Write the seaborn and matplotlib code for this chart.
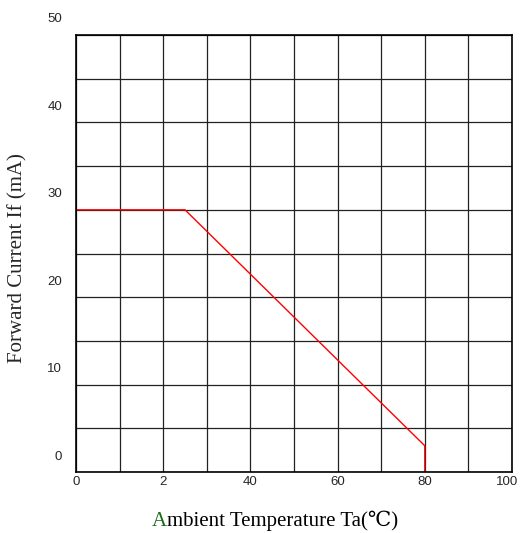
import matplotlib
matplotlib.use("Agg")
import matplotlib.pyplot as plt
import matplotlib.transforms as mtransforms
import seaborn as sns

# Derating curve
temperature = [0, 25, 80, 80]
forward_current = [30, 30, 3, 0]

x_ticks = [0, 20, 40, 60, 80, 100]
x_tick_labels = ['0', '2', '40', '60', '80', '100']
y_ticks = [0, 10, 20, 30, 40, 50]
y_tick_labels = ['0', '10', '20', '30', '40', '50']

sns.set_style("white")
plt.rcParams['font.family'] = ['Liberation Sans', 'DejaVu Sans']

fig = plt.figure(figsize=(5.21, 5.33), dpi=100)
ax = fig.add_axes([76 / 521, 61 / 533, 436 / 521, 437 / 533])

sns.lineplot(x=temperature, y=forward_current, sort=False, estimator=None,
             color='red', linewidth=1, ax=ax)

ax.set_xlim(0, 100)
ax.set_ylim(0, 50)

# grid: 10 x 10 cells
ax.set_xticks(range(0, 101, 10), minor=True)
ax.set_yticks(range(0, 51, 5), minor=True)
ax.grid(True, which='both', color='#222222', linewidth=0.9)
ax.set_axisbelow(True)

ax.set_xticks(x_ticks)
ax.set_xticklabels(x_tick_labels, fontsize=9.5)
ax.set_yticks(y_ticks)
ax.set_yticklabels(y_tick_labels, fontsize=9.5)
ax.tick_params(axis='both', which='both', length=0)
ax.tick_params(axis='x', pad=3)
ax.tick_params(axis='y', pad=10)

# the y labels sit a bit above their grid lines in the original
up = mtransforms.ScaledTranslation(0, 17 / 100, fig.dpi_scale_trans)
for lbl in ax.get_yticklabels():
    lbl.set_transform(lbl.get_transform() + up)
left = mtransforms.ScaledTranslation(-5 / 100, 0, fig.dpi_scale_trans)
last = ax.get_xticklabels()[-1]
last.set_transform(last.get_transform() + left)

for s in ax.spines.values():
    s.set_color('black')
    s.set_linewidth(1.2)

serif = ['Liberation Serif', 'DejaVu Serif']
fig.text(18 / 521, 1 - 258 / 533, 'Forward Current If (mA)', fontsize=15,
         family=serif, rotation=90, va='center', ha='center')

# x label, with a green first letter
ylab = 1 - 521 / 533
a_txt = fig.text(152 / 521, ylab, 'A', color='#1a6b1a', fontsize=15,
                 family=serif, va='center', ha='left')
fig.canvas.draw()
bb = a_txt.get_window_extent()
fig.text(bb.x1 / 521, ylab, 'mbient Temperature Ta(℃)', color='black',
         fontsize=15, family=serif, va='center', ha='left')

fig.savefig('out.png', dpi=100)
